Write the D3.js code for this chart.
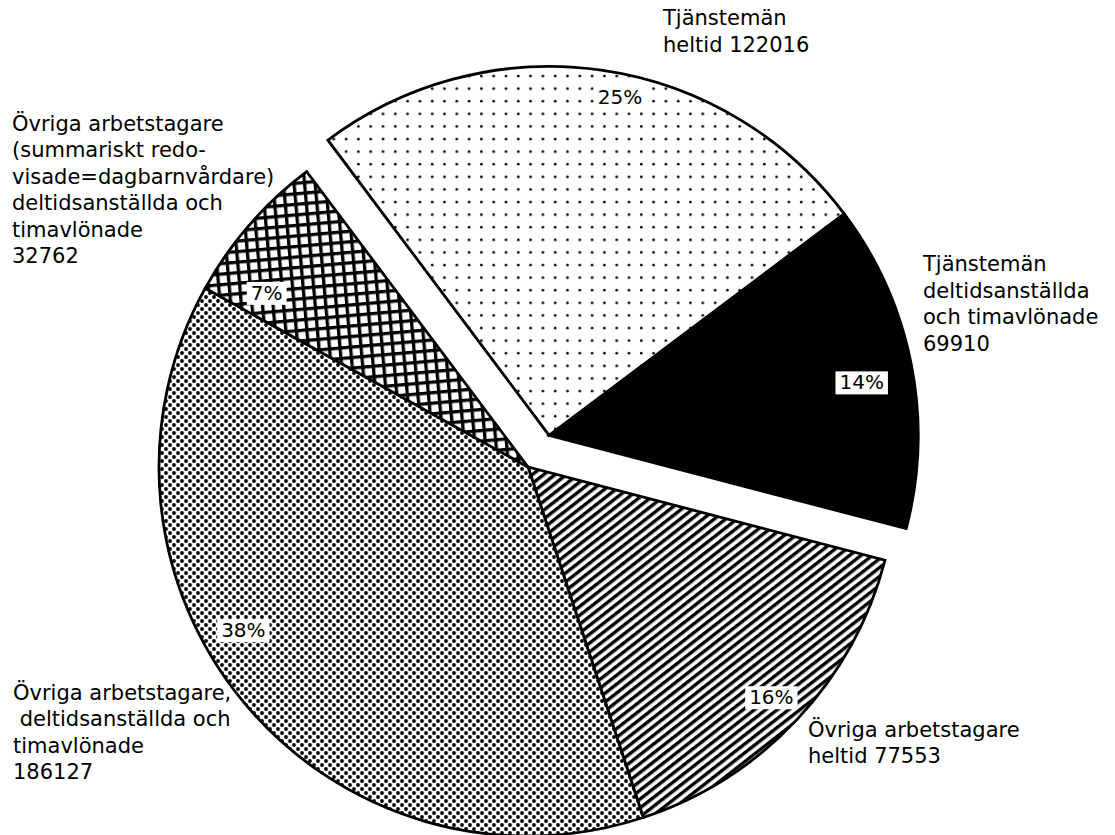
<!DOCTYPE html>
<html><head><meta charset="utf-8">
<script src="https://cdn.jsdelivr.net/npm/d3@7"></script>
<style>
body{margin:0;background:#fff}
svg text{font-family:"DejaVu Sans",sans-serif;fill:#000}
</style>
</head><body>
<svg id="chart" width="1115" height="835"></svg>
<script>
// ---- data ----
const categories = [
  "Tjänstemän heltid",
  "Tjänstemän deltidsanställda och timavlönade",
  "Övriga arbetstagare heltid",
  "Övriga arbetstagare, deltidsanställda och timavlönade",
  "Övriga arbetstagare (summariskt redovisade=dagbarnvårdare) deltidsanställda och timavlönade"
];
const values = [122016, 69910, 77553, 186127, 32762];
const percentLabels = ["25%", "14%", "16%", "38%", "7%"];
const explodedFlags = [true, true, false, false, false];
const labelLines = [
  ["Tjänstemän", "heltid 122016"],
  ["Tjänstemän", "deltidsanställda", "och timavlönade", "69910"],
  ["Övriga arbetstagare", "heltid 77553"],
  ["Övriga arbetstagare,", " deltidsanställda och", "timavlönade", "186127"],
  ["Övriga arbetstagare", "(summariskt redo-", "visade=dagbarnvårdare)", "deltidsanställda och", "timavlönade", "32762"]
];

// ---- layout (positions / styles) ----
const cx = 528, cy = 467, R = 369, explodeDist = 38;
const startDeg = -36.85;
const fills = ["url(#dotsSparse)", "#000", "url(#stripes)", "url(#dotsDense)", "url(#crossHatch)"];
const pctLabelR = [346, 317, 335, 328, 314];
const pctLabelDeg = [3.7, 1.5, 0.2, 9.8, -7.4];
const outerPos = [[663, 25], [923, 271], [808, 737], [13, 700], [12, 131]];
const lineH = [27, 26.7, 26, 26.3, 26.4];

const svg = d3.select("#chart");
const defs = svg.append("defs");

// sparse dots
let p = defs.append("pattern").attr("id","dotsSparse").attr("patternUnits","userSpaceOnUse")
  .attr("width",12.3).attr("height",12.6);
p.append("rect").attr("width",12.3).attr("height",12.6).attr("fill","#fff");
p.append("circle").attr("cx",6).attr("cy",6).attr("r",1.3).attr("fill","#000");

// stripes
p = defs.append("pattern").attr("id","stripes").attr("patternUnits","userSpaceOnUse")
  .attr("width",7).attr("height",7).attr("patternTransform","rotate(-38)");
p.append("rect").attr("width",7).attr("height",7).attr("fill","#fff");
p.append("rect").attr("y",0).attr("width",7).attr("height",3.4).attr("fill","#000");

// dense dots
p = defs.append("pattern").attr("id","dotsDense").attr("patternUnits","userSpaceOnUse")
  .attr("width",8).attr("height",8);
p.append("rect").attr("width",8).attr("height",8).attr("fill","#fff");
p.append("circle").attr("cx",2).attr("cy",2).attr("r",1.9).attr("fill","#000");
p.append("circle").attr("cx",6).attr("cy",6).attr("r",1.9).attr("fill","#000");

// crosshatch
p = defs.append("pattern").attr("id","crossHatch").attr("patternUnits","userSpaceOnUse")
  .attr("width",10.5).attr("height",10.5).attr("patternTransform","rotate(-5)");
p.append("rect").attr("width",10.5).attr("height",10.5).attr("fill","#fff");
p.append("rect").attr("width",10.5).attr("height",3.3).attr("fill","#000");
p.append("rect").attr("width",3.3).attr("height",10.5).attr("fill","#000");

const toRad = d => d * Math.PI / 180;
const pie = d3.pie().sort(null).value(d => d)
  .startAngle(toRad(startDeg)).endAngle(toRad(startDeg) + 2 * Math.PI);
const arcs = pie(values);
const arcGen = d3.arc().innerRadius(0).outerRadius(R);

// explode direction: bisector of the exploded group
const ex = arcs.filter((a, i) => explodedFlags[i]);
const exMid = (ex[0].startAngle + ex[ex.length - 1].endAngle) / 2;
const exDx = explodeDist * Math.sin(exMid), exDy = -explodeDist * Math.cos(exMid);

const g = svg.append("g");
arcs.forEach((a, i) => {
  const ox = cx + (explodedFlags[i] ? exDx : 0);
  const oy = cy + (explodedFlags[i] ? exDy : 0);
  g.append("path")
    .attr("d", arcGen(a))
    .attr("transform", `translate(${ox},${oy})`)
    .attr("fill", fills[i])
    .attr("stroke", "#000")
    .attr("stroke-width", 2.8)
    .attr("stroke-linejoin", "miter");
});

// percent labels with white boxes
arcs.forEach((a, i) => {
  const ox = cx + (explodedFlags[i] ? exDx : 0);
  const oy = cy + (explodedFlags[i] ? exDy : 0);
  const ang = (a.startAngle + a.endAngle) / 2 + toRad(pctLabelDeg[i]);
  const x = ox + pctLabelR[i] * Math.sin(ang);
  const y = oy - pctLabelR[i] * Math.cos(ang);
  const t = svg.append("text").attr("x", x).attr("y", y).attr("text-anchor","middle")
    .attr("dominant-baseline","central").attr("font-size", 20).text(percentLabels[i]);
  const bb = t.node().getBBox();
  svg.insert("rect", "text").attr("x", bb.x - 4).attr("y", bb.y + 1).attr("width", bb.width + 8)
    .attr("height", bb.height - 1).attr("fill", "#fff");
});

// outer category labels
labelLines.forEach((lines, i) => {
  const t = svg.append("text").attr("x", outerPos[i][0]).attr("y", outerPos[i][1])
    .attr("font-size", 21).attr("xml:space","preserve");
  lines.forEach((ln, j) => {
    t.append("tspan").attr("x", outerPos[i][0]).attr("y", outerPos[i][1] + j * lineH[i]).text(ln);
  });
});
</script>
</body></html>
